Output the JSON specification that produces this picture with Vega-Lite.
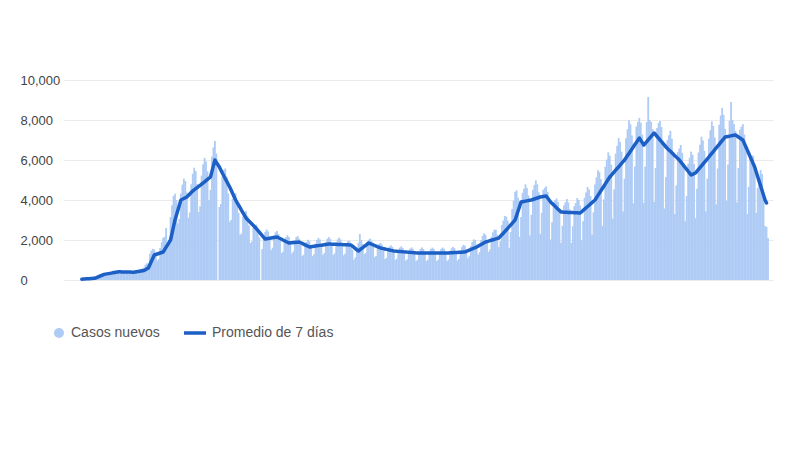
{
"$schema": "https://vega.github.io/schema/vega-lite/v6.json",
"width": 709, "height": 200,
"autosize": {"type": "none"},
"padding": {"left": 64, "top": 80, "right": 27, "bottom": 187},
"background": "white",
"config": {"view": {"stroke": null}, "font": "Liberation Sans",
  "axisY": {"values": [0, 2000, 4000, 6000, 8000, 10000], "labelExpr": "format(datum.value, ',d')", "title": null, "domain": false, "ticks": false,
            "labelAlign": "left", "labelPadding": 44, "labelFontSize": 13, "labelColor": "#444444", "labelFont": "Liberation Sans", "labelOverlap": false,
            "grid": true, "gridColor": "#ebebeb", "gridWidth": 1}},
"data": {"values": [
{"d":0,"c":60,"a":40},{"d":1,"c":62,"a":46},{"d":2,"c":61,"a":51},{"d":3,"c":69,"a":57},{"d":4,"c":79,"a":62},{"d":5,"c":88,"a":68},{"d":6,"c":95,"a":73},{"d":7,"c":128,"a":79},{"d":8,"c":153,"a":84},{"d":9,"c":167,"a":90},
{"d":10,"c":206,"a":122},{"d":11,"c":248,"a":153},{"d":12,"c":294,"a":185},{"d":13,"c":308,"a":217},{"d":14,"c":321,"a":248},{"d":15,"c":319,"a":280},{"d":16,"c":299,"a":293},{"d":17,"c":328,"a":306},{"d":18,"c":358,"a":319},{"d":19,"c":390,"a":332},
{"d":20,"c":403,"a":345},{"d":21,"c":417,"a":358},{"d":22,"c":410,"a":371},{"d":23,"c":367,"a":384},{"d":24,"c":386,"a":397},{"d":25,"c":404,"a":410},{"d":26,"c":422,"a":408},{"d":27,"c":420,"a":406},{"d":28,"c":418,"a":404},{"d":29,"c":396,"a":402},
{"d":30,"c":355,"a":400},{"d":31,"c":372,"a":398},{"d":32,"c":390,"a":396},{"d":33,"c":421,"a":394},{"d":34,"c":434,"a":392},{"d":35,"c":445,"a":390},{"d":36,"c":436,"a":401},{"d":37,"c":402,"a":413},{"d":38,"c":436,"a":424},{"d":39,"c":470,"a":436},
{"d":40,"c":539,"a":447},{"d":41,"c":585,"a":459},{"d":42,"c":630,"a":470},{"d":43,"c":763,"a":513},{"d":44,"c":833,"a":557},{"d":45,"c":816,"a":600},{"d":46,"c":1313,"a":763},{"d":47,"c":1466,"a":925},{"d":48,"c":1560,"a":1088},{"d":49,"c":1524,"a":1250},
{"d":50,"c":1350,"a":1275},{"d":51,"c":963,"a":1300},{"d":52,"c":1050,"a":1325},{"d":53,"c":1596,"a":1350},{"d":54,"c":1886,"a":1375},{"d":55,"c":2112,"a":1400},{"d":56,"c":2162,"a":1520},{"d":57,"c":2600,"a":1640},{"d":58,"c":1633,"a":1760},{"d":59,"c":2000,"a":1880},
{"d":60,"c":3150,"a":2000},{"d":61,"c":3738,"a":2333},{"d":62,"c":4200,"a":2667},{"d":63,"c":4313,"a":3000},{"d":64,"c":4000,"a":3250},{"d":65,"c":2827,"a":3500},{"d":66,"c":3056,"a":3750},{"d":67,"c":4319,"a":4000},{"d":68,"c":4773,"a":4038},{"d":69,"c":5070,"a":4075},
{"d":70,"c":4945,"a":4113},{"d":71,"c":4375,"a":4150},{"d":72,"c":3115,"a":4225},{"d":73,"c":3380,"a":4300},{"d":74,"c":4792,"a":4375},{"d":75,"c":5314,"a":4450},{"d":76,"c":5615,"a":4507},{"d":77,"c":5446,"a":4564},{"d":78,"c":4793,"a":4621},{"d":79,"c":3395,"a":4679},
{"d":80,"c":3683,"a":4736},{"d":81,"c":5219,"a":4793},{"d":82,"c":5785,"a":4850},{"d":83,"c":6108,"a":4910},{"d":84,"c":5923,"a":4970},{"d":85,"c":5433,"a":5030},{"d":86,"c":4002,"a":5090},{"d":87,"c":4500,"a":5150},{"d":88,"c":6177,"a":5433},{"d":89,"c":6632,"a":5717},
{"d":90,"c":6950,"a":6000},{"d":91,"c":6325,"a":5883},{"d":92,"c":0,"a":5767},{"d":93,"c":3647,"a":5650},{"d":94,"c":3803,"a":5500},{"d":95,"c":5177,"a":5350},{"d":96,"c":5509,"a":5210},{"d":97,"c":5580,"a":5070},{"d":98,"c":5161,"a":4930},{"d":99,"c":4325,"a":4790},
{"d":100,"c":2914,"a":4650},{"d":101,"c":3000,"a":4488},{"d":102,"c":4065,"a":4325},{"d":103,"c":4304,"a":4163},{"d":104,"c":4337,"a":4000},{"d":105,"c":4009,"a":3871},{"d":106,"c":3357,"a":3743},{"d":107,"c":2260,"a":3614},{"d":108,"c":2325,"a":3486},{"d":109,"c":3176,"a":3357},
{"d":110,"c":3393,"a":3229},{"d":111,"c":3450,"a":3100},{"d":112,"c":3220,"a":3025},{"d":113,"c":2725,"a":2950},{"d":114,"c":1855,"a":2875},{"d":115,"c":1923,"a":2800},{"d":116,"c":2603,"a":2725},{"d":117,"c":2752,"a":2650},{"d":118,"c":2768,"a":2564},{"d":119,"c":2554,"a":2479},
{"d":120,"c":2136,"a":2393},{"d":121,"c":0,"a":2307},{"d":122,"c":1547,"a":2221},{"d":123,"c":2179,"a":2136},{"d":124,"c":2401,"a":2050},{"d":125,"c":2520,"a":2063},{"d":126,"c":2430,"a":2075},{"d":127,"c":2125,"a":2088},{"d":128,"c":1497,"a":2100},{"d":129,"c":1613,"a":2113},
{"d":130,"c":2219,"a":2125},{"d":131,"c":2386,"a":2138},{"d":132,"c":2446,"a":2150},{"d":133,"c":2300,"a":2113},{"d":134,"c":1963,"a":2075},{"d":135,"c":1348,"a":2038},{"d":136,"c":1416,"a":2000},{"d":137,"c":1943,"a":1963},{"d":138,"c":2136,"a":1925},{"d":139,"c":2237,"a":1888},
{"d":140,"c":2152,"a":1850},{"d":141,"c":1879,"a":1857},{"d":142,"c":1320,"a":1864},{"d":143,"c":1420,"a":1871},{"d":144,"c":1995,"a":1879},{"d":145,"c":2144,"a":1886},{"d":146,"c":2195,"a":1893},{"d":147,"c":2062,"a":1900},{"d":148,"c":1757,"a":1864},{"d":149,"c":1205,"a":1829},
{"d":150,"c":1265,"a":1793},{"d":151,"c":1733,"a":1757},{"d":152,"c":1911,"a":1721},{"d":153,"c":2008,"a":1686},{"d":154,"c":1938,"a":1650},{"d":155,"c":1696,"a":1662},{"d":156,"c":1196,"a":1673},{"d":157,"c":1289,"a":1685},{"d":158,"c":1818,"a":1696},{"d":159,"c":2003,"a":1708},
{"d":160,"c":2105,"a":1719},{"d":161,"c":2030,"a":1731},{"d":162,"c":1777,"a":1742},{"d":163,"c":1252,"a":1754},{"d":164,"c":1350,"a":1765},{"d":165,"c":1887,"a":1777},{"d":166,"c":2062,"a":1788},{"d":167,"c":2148,"a":1800},{"d":168,"c":2055,"a":1797},{"d":169,"c":1783,"a":1793},
{"d":170,"c":1246,"a":1790},{"d":171,"c":1333,"a":1787},{"d":172,"c":1862,"a":1783},{"d":173,"c":2036,"a":1780},{"d":174,"c":2120,"a":1777},{"d":175,"c":2027,"a":1773},{"d":176,"c":1760,"a":1770},{"d":177,"c":1230,"a":1767},{"d":178,"c":1315,"a":1763},{"d":179,"c":1838,"a":1760},
{"d":180,"c":1944,"a":1757},{"d":181,"c":1956,"a":1753},{"d":182,"c":1806,"a":1750},{"d":183,"c":1510,"a":1690},{"d":184,"c":1015,"a":1630},{"d":185,"c":1130,"a":1570},{"d":186,"c":1642,"a":1510},{"d":187,"c":1864,"a":1450},{"d":188,"c":2300,"a":1507},{"d":189,"c":1996,"a":1564},
{"d":190,"c":1793,"a":1621},{"d":191,"c":1295,"a":1679},{"d":192,"c":1364,"a":1736},{"d":193,"c":1877,"a":1793},{"d":194,"c":2019,"a":1850},{"d":195,"c":2070,"a":1819},{"d":196,"c":1948,"a":1788},{"d":197,"c":1663,"a":1756},{"d":198,"c":1142,"a":1725},{"d":199,"c":1200,"a":1694},
{"d":200,"c":1662,"a":1663},{"d":201,"c":1802,"a":1631},{"d":202,"c":1860,"a":1600},{"d":203,"c":1763,"a":1583},{"d":204,"c":1517,"a":1567},{"d":205,"c":1050,"a":1550},{"d":206,"c":1112,"a":1533},{"d":207,"c":1540,"a":1517},{"d":208,"c":1668,"a":1500},{"d":209,"c":1733,"a":1483},
{"d":210,"c":1654,"a":1467},{"d":211,"c":1431,"a":1450},{"d":212,"c":998,"a":1444},{"d":213,"c":1064,"a":1438},{"d":214,"c":1484,"a":1431},{"d":215,"c":1617,"a":1425},{"d":216,"c":1680,"a":1419},{"d":217,"c":1603,"a":1413},{"d":218,"c":1388,"a":1406},{"d":219,"c":967,"a":1400},
{"d":220,"c":1031,"a":1394},{"d":221,"c":1437,"a":1388},{"d":222,"c":1567,"a":1381},{"d":223,"c":1627,"a":1375},{"d":224,"c":1553,"a":1369},{"d":225,"c":1350,"a":1363},{"d":226,"c":945,"a":1356},{"d":227,"c":1013,"a":1350},{"d":228,"c":1418,"a":1350},{"d":229,"c":1553,"a":1350},
{"d":230,"c":1620,"a":1350},{"d":231,"c":1553,"a":1350},{"d":232,"c":1350,"a":1350},{"d":233,"c":945,"a":1350},{"d":234,"c":1013,"a":1350},{"d":235,"c":1418,"a":1350},{"d":236,"c":1553,"a":1350},{"d":237,"c":1620,"a":1350},{"d":238,"c":1553,"a":1350},{"d":239,"c":1350,"a":1350},
{"d":240,"c":945,"a":1350},{"d":241,"c":1013,"a":1350},{"d":242,"c":1418,"a":1350},{"d":243,"c":1553,"a":1350},{"d":244,"c":1620,"a":1350},{"d":245,"c":1557,"a":1350},{"d":246,"c":1358,"a":1350},{"d":247,"c":954,"a":1350},{"d":248,"c":1025,"a":1354},{"d":249,"c":1440,"a":1358},
{"d":250,"c":1581,"a":1363},{"d":251,"c":1655,"a":1367},{"d":252,"c":1590,"a":1371},{"d":253,"c":1388,"a":1375},{"d":254,"c":974,"a":1379},{"d":255,"c":1047,"a":1383},{"d":256,"c":1470,"a":1388},{"d":257,"c":1646,"a":1392},{"d":258,"c":1756,"a":1396},{"d":259,"c":1718,"a":1400},
{"d":260,"c":1525,"a":1431},{"d":261,"c":1089,"a":1463},{"d":262,"c":1191,"a":1494},{"d":263,"c":1700,"a":1525},{"d":264,"c":1898,"a":1556},{"d":265,"c":2030,"a":1588},{"d":266,"c":1993,"a":1619},{"d":267,"c":1775,"a":1650},{"d":268,"c":1272,"a":1692},{"d":269,"c":1394,"a":1733},
{"d":270,"c":1995,"a":1775},{"d":271,"c":2210,"a":1817},{"d":272,"c":2333,"a":1858},{"d":273,"c":2262,"a":1900},{"d":274,"c":1989,"a":1922},{"d":275,"c":1408,"a":1944},{"d":276,"c":1525,"a":1967},{"d":277,"c":2159,"a":1989},{"d":278,"c":2390,"a":2011},{"d":279,"c":2520,"a":2033},
{"d":280,"c":2507,"a":2056},{"d":281,"c":2260,"a":2078},{"d":282,"c":1638,"a":2100},{"d":283,"c":1936,"a":2180},{"d":284,"c":2750,"a":2260},{"d":285,"c":2970,"a":2340},{"d":286,"c":3200,"a":2420},{"d":287,"c":3163,"a":2500},{"d":288,"c":2975,"a":2583},{"d":289,"c":1604,"a":2667},
{"d":290,"c":2400,"a":2750},{"d":291,"c":3548,"a":2833},{"d":292,"c":3968,"a":2917},{"d":293,"c":4410,"a":3000},{"d":294,"c":4485,"a":3225},{"d":295,"c":4110,"a":3450},{"d":296,"c":2161,"a":3675},{"d":297,"c":3154,"a":3900},{"d":298,"c":4353,"a":3914},{"d":299,"c":4567,"a":3929},
{"d":300,"c":4783,"a":3943},{"d":301,"c":4600,"a":3957},{"d":302,"c":4226,"a":3971},{"d":303,"c":2228,"a":3986},{"d":304,"c":3260,"a":4000},{"d":305,"c":4510,"a":4025},{"d":306,"c":4744,"a":4050},{"d":307,"c":4980,"a":4075},{"d":308,"c":4787,"a":4100},{"d":309,"c":4384,"a":4125},
{"d":310,"c":2303,"a":4150},{"d":311,"c":3360,"a":4163},{"d":312,"c":4510,"a":4175},{"d":313,"c":4600,"a":4188},{"d":314,"c":4680,"a":4200},{"d":315,"c":4403,"a":4100},{"d":316,"c":3945,"a":4000},{"d":317,"c":2027,"a":3900},{"d":318,"c":2891,"a":3829},{"d":319,"c":3897,"a":3757},
{"d":320,"c":3992,"a":3686},{"d":321,"c":4080,"a":3614},{"d":322,"c":3905,"a":3543},{"d":323,"c":3562,"a":3471},{"d":324,"c":1863,"a":3400},{"d":325,"c":2708,"a":3396},{"d":326,"c":3719,"a":3392},{"d":327,"c":3884,"a":3388},{"d":328,"c":4048,"a":3385},{"d":329,"c":3874,"a":3381},
{"d":330,"c":3533,"a":3377},{"d":331,"c":1849,"a":3373},{"d":332,"c":2686,"a":3369},{"d":333,"c":3689,"a":3365},{"d":334,"c":3853,"a":3362},{"d":335,"c":4098,"a":3358},{"d":336,"c":4002,"a":3354},{"d":337,"c":3722,"a":3350},{"d":338,"c":1986,"a":3415},{"d":339,"c":2940,"a":3480},
{"d":340,"c":4114,"a":3545},{"d":341,"c":4376,"a":3610},{"d":342,"c":4644,"a":3675},{"d":343,"c":4525,"a":3740},{"d":344,"c":4200,"a":3805},{"d":345,"c":2263,"a":3870},{"d":346,"c":3384,"a":3935},{"d":347,"c":4780,"a":4000},{"d":348,"c":5129,"a":4115},{"d":349,"c":5490,"a":4230},
{"d":350,"c":5394,"a":4345},{"d":351,"c":5045,"a":4460},{"d":352,"c":2706,"a":4575},{"d":353,"c":4028,"a":4690},{"d":354,"c":5665,"a":4805},{"d":355,"c":6020,"a":4920},{"d":356,"c":6384,"a":5035},{"d":357,"c":6216,"a":5150},{"d":358,"c":5765,"a":5235},{"d":359,"c":3066,"a":5320},
{"d":360,"c":4528,"a":5405},{"d":361,"c":6320,"a":5490},{"d":362,"c":6705,"a":5575},{"d":363,"c":7098,"a":5660},{"d":364,"c":6900,"a":5745},{"d":365,"c":6416,"a":5830},{"d":366,"c":3421,"a":5915},{"d":367,"c":5064,"a":6000},{"d":368,"c":7084,"a":6110},{"d":369,"c":7533,"a":6220},
{"d":370,"c":7992,"a":6330},{"d":371,"c":7786,"a":6440},{"d":372,"c":7224,"a":6550},{"d":373,"c":3845,"a":6660},{"d":374,"c":5680,"a":6770},{"d":375,"c":7681,"a":6880},{"d":376,"c":7897,"a":6990},{"d":377,"c":8100,"a":7100},{"d":378,"c":7861,"a":6983},{"d":379,"c":7267,"a":6867},
{"d":380,"c":3854,"a":6750},{"d":381,"c":5674,"a":6836},{"d":382,"c":7897,"a":6921},{"d":383,"c":9150,"a":7007},{"d":384,"c":8000,"a":7093},{"d":385,"c":7900,"a":7179},{"d":386,"c":7534,"a":7264},{"d":387,"c":3898,"a":7350},{"d":388,"c":5600,"a":7263},{"d":389,"c":7604,"a":7175},
{"d":390,"c":7849,"a":7088},{"d":391,"c":7950,"a":7000},{"d":392,"c":7648,"a":6913},{"d":393,"c":6907,"a":6825},{"d":394,"c":3578,"a":6738},{"d":395,"c":5146,"a":6650},{"d":396,"c":6997,"a":6578},{"d":397,"c":7232,"a":6506},{"d":398,"c":7460,"a":6433},{"d":399,"c":7066,"a":6361},
{"d":400,"c":6376,"a":6289},{"d":401,"c":3300,"a":6217},{"d":402,"c":4725,"a":6144},{"d":403,"c":6394,"a":6072},{"d":404,"c":6577,"a":6000},{"d":405,"c":6750,"a":5906},{"d":406,"c":6361,"a":5813},{"d":407,"c":5710,"a":5719},{"d":408,"c":2939,"a":5625},{"d":409,"c":4200,"a":5531},
{"d":410,"c":5811,"a":5438},{"d":411,"c":6115,"a":5344},{"d":412,"c":6420,"a":5250},{"d":413,"c":6255,"a":5283},{"d":414,"c":5804,"a":5317},{"d":415,"c":3089,"a":5350},{"d":416,"c":4565,"a":5439},{"d":417,"c":6373,"a":5528},{"d":418,"c":6765,"a":5617},{"d":419,"c":7166,"a":5706},
{"d":420,"c":6970,"a":5794},{"d":421,"c":6458,"a":5883},{"d":422,"c":3433,"a":5972},{"d":423,"c":5066,"a":6061},{"d":424,"c":7065,"a":6150},{"d":425,"c":7491,"a":6241},{"d":426,"c":7926,"a":6332},{"d":427,"c":7699,"a":6423},{"d":428,"c":7125,"a":6514},{"d":429,"c":3782,"a":6605},
{"d":430,"c":5574,"a":6695},{"d":431,"c":7765,"a":6786},{"d":432,"c":8223,"a":6877},{"d":433,"c":8597,"a":6968},{"d":434,"c":8256,"a":7059},{"d":435,"c":7553,"a":7150},{"d":436,"c":3964,"a":7164},{"d":437,"c":5777,"a":7179},{"d":438,"c":7960,"a":7193},{"d":439,"c":8900,"a":7207},
{"d":440,"c":8000,"a":7221},{"d":441,"c":7800,"a":7236},{"d":442,"c":7455,"a":7250},{"d":443,"c":3878,"a":7200},{"d":444,"c":5600,"a":7150},{"d":445,"c":7514,"a":7100},{"d":446,"c":7662,"a":7050},{"d":447,"c":7793,"a":7000},{"d":448,"c":7274,"a":6831},{"d":449,"c":6464,"a":6663},
{"d":450,"c":3293,"a":6494},{"d":451,"c":4655,"a":6325},{"d":452,"c":6215,"a":6156},{"d":453,"c":6226,"a":5988},{"d":454,"c":6215,"a":5819},{"d":455,"c":5684,"a":5650},{"d":456,"c":3350,"a":5414},{"d":457,"c":4600,"a":5179},{"d":458,"c":5000,"a":4943},{"d":459,"c":5500,"a":4707},
{"d":460,"c":5300,"a":4471},{"d":461,"c":4200,"a":4236},{"d":462,"c":2700,"a":4000},{"d":463,"c":2650,"a":3850},{"d":464,"c":2100,"a":null}
]},
"layer": [
{"mark": {"type": "bar", "width": 1.8},
 "encoding": {
  "x": {"field": "d", "type": "quantitative", "scale": {"domain": [-8.67, 464], "nice": false, "zero": false}, "axis": null},
  "y": {"field": "c", "type": "quantitative", "scale": {"domain": [0, 10000], "nice": false}},
  "color": {"datum": "Casos nuevos", "type": "nominal",
            "scale": {"domain": ["Casos nuevos", "Promedio de 7 días"], "range": ["#aecbf5", "#1c5fc5"]},
            "legend": {"title": null, "orient": "none", "legendX": -16, "legendY": 242, "direction": "horizontal",
                       "labelFontSize": 14, "labelColor": "#555555", "labelFont": "Liberation Sans", "symbolSize": 484, "columnPadding": 24, "labelOffset": 1, "padding": 0,
                       "encode": {"symbols": {"update": {
                          "shape": {"signal": "datum.value === 'Casos nuevos' ? 'circle' : 'M-1.4545,-0.16L0.5455,-0.16L0.5455,0.16L-1.4545,0.16Z'"},
                          "size": {"signal": "datum.value === 'Casos nuevos' ? 100 : 484"},
                          "strokeWidth": {"value": 0},
                          "fill": {"signal": "datum.value === 'Casos nuevos' ? '#aecbf5' : '#1c5fc5'"},
                          "stroke": {"value": "transparent"},
                          "opacity": {"value": 1}}}}}}
 }},
{"mark": {"type": "line", "strokeWidth": 3.5, "strokeJoin": "round", "strokeCap": "round"},
 "encoding": {
  "x": {"field": "d", "type": "quantitative"},
  "y": {"field": "a", "type": "quantitative"},
  "color": {"datum": "Promedio de 7 días", "type": "nominal"}
 }}
]
}
